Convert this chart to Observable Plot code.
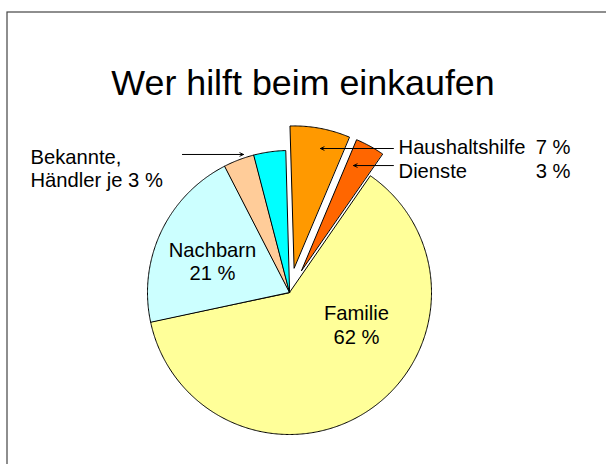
<!DOCTYPE html>
<html>
<head>
<meta charset="utf-8">
<script src="https://cdn.jsdelivr.net/npm/d3@7"></script>
<script src="https://cdn.jsdelivr.net/npm/@observablehq/plot@0.6"></script>
<style>
  html, body { margin: 0; padding: 0; background: #fff; }
  #chart { width: 606px; height: 464px; overflow: hidden; }
</style>
</head>
<body>
<div id="chart"></div>
<script>
// ---- data ----
const title = "Wer hilft beim einkaufen";
const categories = ["Familie", "Nachbarn", "Bekannte", "Händler", "Haushaltshilfe", "Dienste"];
const shares = [62, 20.8, 3.5, 3.6, 6.8, 3.3];
const exploded = [false, false, false, false, true, true];
const sliceColors = ["#FFFF99", "#CCFFFF", "#FFCC99", "#00FFFF", "#FF9900", "#FF6600"];

const insideLabels = ["Familie\n62 %", "Nachbarn\n21 %"];
const sideLabel = "Bekannte,\nHändler je 3 %";
const legendNames = ["Haushaltshilfe", "Dienste"];
const legendValues = ["7 %", "3 %"];

// ---- layout (in pie-radius units, centre of pie = 0,0) ----
const startDeg = 34.7;      // Familie starts here, clockwise from 12 o'clock
const explodeBy = 0.176;
const insidePos = [{x: 0.472, y: -0.223}, {x: -0.542, y: 0.221}];
const sidePos = {x: -1.824, y: 0.878};
const legendPos = [{x: 0.768, y: 1.024}, {x: 0.768, y: 0.855}];
const legendValueX = 1.979;
const arrows = [
  {x1: -0.754, x2: -0.324, y: 0.972},
  {x1: 0.732, x2: 0.218, y: 1.014},
  {x1: 0.732, x2: 0.451, y: 0.894}
];

// ---- build slices ----
const data = categories.map((name, i) => ({name, share: shares[i], exploded: exploded[i]}));
const a0 = startDeg * Math.PI / 180;
const arcs = d3.pie().sort(null).value(d => d.share).startAngle(a0).endAngle(a0 + 2 * Math.PI)(data);
const pts = arcs.flatMap(a => {
  const mid = (a.startAngle + a.endAngle) / 2;
  const off = a.data.exploded ? explodeBy : 0;
  const ox = off * Math.sin(mid), oy = off * Math.cos(mid);
  const n = Math.max(2, Math.ceil((a.endAngle - a.startAngle) / (Math.PI / 360)));
  const out = [{name: a.data.name, x: ox, y: oy}];
  for (let i = 0; i <= n; i++) {
    const ang = a.startAngle + (a.endAngle - a.startAngle) * i / n;
    out.push({name: a.data.name, x: ox + Math.sin(ang), y: oy + Math.cos(ang)});
  }
  return out;
});

const R = 142, cx = 289, cy = 292, W = 606, H = 464;
const font = "'Liberation Sans', Arial, sans-serif";

const chart = Plot.plot({
  width: W, height: H,
  margin: 0,
  style: {fontFamily: font, background: "white", color: "black"},
  x: {domain: [-cx / R, (W - cx) / R], axis: null},
  y: {domain: [-(H - cy) / R, cy / R], axis: null},
  color: {domain: categories, range: sliceColors},
  marks: [
    Plot.frame({insetLeft: 6.5, insetTop: 11.5, insetRight: -10, insetBottom: -10, stroke: "#444", strokeWidth: 1.2}),
    Plot.line(pts, {x: "x", y: "y", z: "name", fill: "name", stroke: "black", strokeWidth: 1, curve: "linear-closed", strokeLinejoin: "miter"}),
    Plot.text([title], {frameAnchor: "top", dx: -0.5, dy: 69, fontSize: 35.8, fill: "black"}),
    Plot.text(insideLabels, {x: (d, i) => insidePos[i].x, y: (d, i) => insidePos[i].y, text: d => d, fontSize: 20.2, lineHeight: 1.17, fill: "black"}),
    Plot.text([sideLabel], {x: sidePos.x, y: sidePos.y, text: d => d, textAnchor: "start", fontSize: 20.2, lineHeight: 1.16, fill: "black"}),
    Plot.text(legendNames, {x: (d, i) => legendPos[i].x, y: (d, i) => legendPos[i].y, text: d => d, textAnchor: "start", fontSize: 20.2, fill: "black"}),
    Plot.text(legendValues, {x: legendValueX, y: (d, i) => legendPos[i].y, text: d => d, textAnchor: "end", fontSize: 20.2, fill: "black"}),
    Plot.arrow(arrows, {x1: "x1", x2: "x2", y1: "y", y2: "y", stroke: "black", strokeWidth: 1, headLength: 6, headAngle: 50})
  ]
});
document.getElementById("chart").appendChild(chart);
</script>
</body>
</html>
